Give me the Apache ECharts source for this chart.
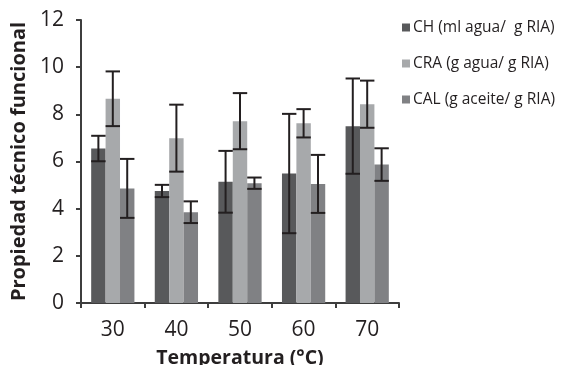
<!DOCTYPE html>
<html>
<head>
<meta charset="utf-8">
<script src="https://cdn.jsdelivr.net/npm/echarts@6/dist/echarts.min.js"></script>
<style>html,body{margin:0;padding:0;background:#fff}#c{width:563px;height:365px}</style>
</head>
<body>
<div id="c"></div>
<script>
var categories = ['30', '40', '50', '60', '70'];
var seriesNames = ['CH (ml agua/  g RIA)', 'CRA (g agua/ g RIA)', 'CAL (g aceite/ g RIA)'];
var chValues = [6.55, 4.75, 5.14, 5.49, 7.50];
var chErr = [0.54, 0.26, 1.31, 2.53, 2.02];
var craValues = [8.66, 6.99, 7.71, 7.62, 8.43];
var craErr = [1.16, 1.42, 1.19, 0.60, 1.00];
var calValues = [4.86, 3.85, 5.08, 5.05, 5.87];
var calErr = [1.25, 0.46, 0.24, 1.23, 0.69];
var colors = ['#58595b', '#a7a9ab', '#808184'];

var values = [chValues, craValues, calValues];
var errs = [chErr, craErr, calErr];
var catGap = 0.32;

var chart = echarts.init(document.getElementById('c'), null, {renderer: 'canvas'});
var FONT = '"Open Sans", sans-serif';

var series = [];
values.forEach(function (vals, si) {
  series.push({
    name: seriesNames[si],
    type: 'bar',
    data: vals,
    barGap: '0%',
    barCategoryGap: (catGap * 100) + '%',
    itemStyle: {color: colors[si]},
    z: 2
  });
});
values.forEach(function (vals, si) {
  var data = vals.map(function (v, i) { return [i, v - errs[si][i], v + errs[si][i]]; });
  series.push({
    type: 'custom',
    name: 'err' + si,
    data: data,
    z: 5,
    silent: true,
    encode: {x: 0, y: [1, 2]},
    renderItem: function (params, api) {
      var band = api.size([1, 0])[0];
      var bw = band * (1 - catGap) / 3;
      var off = (si - 1) * bw;
      var lo = api.coord([api.value(0), api.value(1)]);
      var hi = api.coord([api.value(0), api.value(2)]);
      var x = lo[0] + off;
      var half = bw / 2;
      var st = {stroke: '#231f20', lineWidth: 2};
      return {
        type: 'group',
        children: [
          {type: 'line', shape: {x1: x, y1: lo[1], x2: x, y2: hi[1]}, style: st},
          {type: 'line', shape: {x1: x - half, y1: lo[1], x2: x + half, y2: lo[1]}, style: st},
          {type: 'line', shape: {x1: x - half, y1: hi[1], x2: x + half, y2: hi[1]}, style: st}
        ]
      };
    }
  });
});

chart.setOption({
  animation: false,
  textStyle: {fontFamily: FONT},
  grid: {left: 81, right: 164, top: 20, bottom: 62, containLabel: false, outerBoundsMode: 'none'},
  legend: {
    orient: 'vertical',
    left: 402,
    top: 19.5,
    data: seriesNames,
    icon: 'rect',
    itemWidth: 8,
    itemHeight: 8,
    itemGap: 20,
    padding: 0,
    textStyle: {fontFamily: FONT, fontSize: 15.5, color: '#231f20', lineHeight: 16, padding: [0, 0, 0, -2]}
  },
  xAxis: {
    type: 'category',
    data: categories,
    name: 'Temperatura (°C)',
    nameLocation: 'middle',
    nameGap: 45,
    nameTextStyle: {fontFamily: FONT, fontSize: 19.5, fontWeight: 'bold', color: '#231f20'},
    axisLine: {lineStyle: {color: '#3d3d3d', width: 2}},
    axisTick: {show: true, length: 5, lineStyle: {color: '#3d3d3d', width: 2}},
    axisLabel: {fontFamily: FONT, fontSize: 21, color: '#231f20', margin: 17}
  },
  yAxis: {
    type: 'value',
    min: 0,
    max: 12,
    interval: 2,
    name: 'Propiedad técnico funcional',
    nameLocation: 'middle',
    nameGap: 52,
    nameRotate: 90,
    nameTextStyle: {fontFamily: FONT, fontSize: 20, fontWeight: 'bold', color: '#231f20'},
    axisLine: {show: true, lineStyle: {color: '#3d3d3d', width: 2}},
    axisTick: {show: true, length: 5, lineStyle: {color: '#3d3d3d', width: 2}},
    splitLine: {show: false},
    axisLabel: {fontFamily: FONT, fontSize: 21, color: '#231f20', margin: 17}
  },
  series: series
});
</script>
</body>
</html>
